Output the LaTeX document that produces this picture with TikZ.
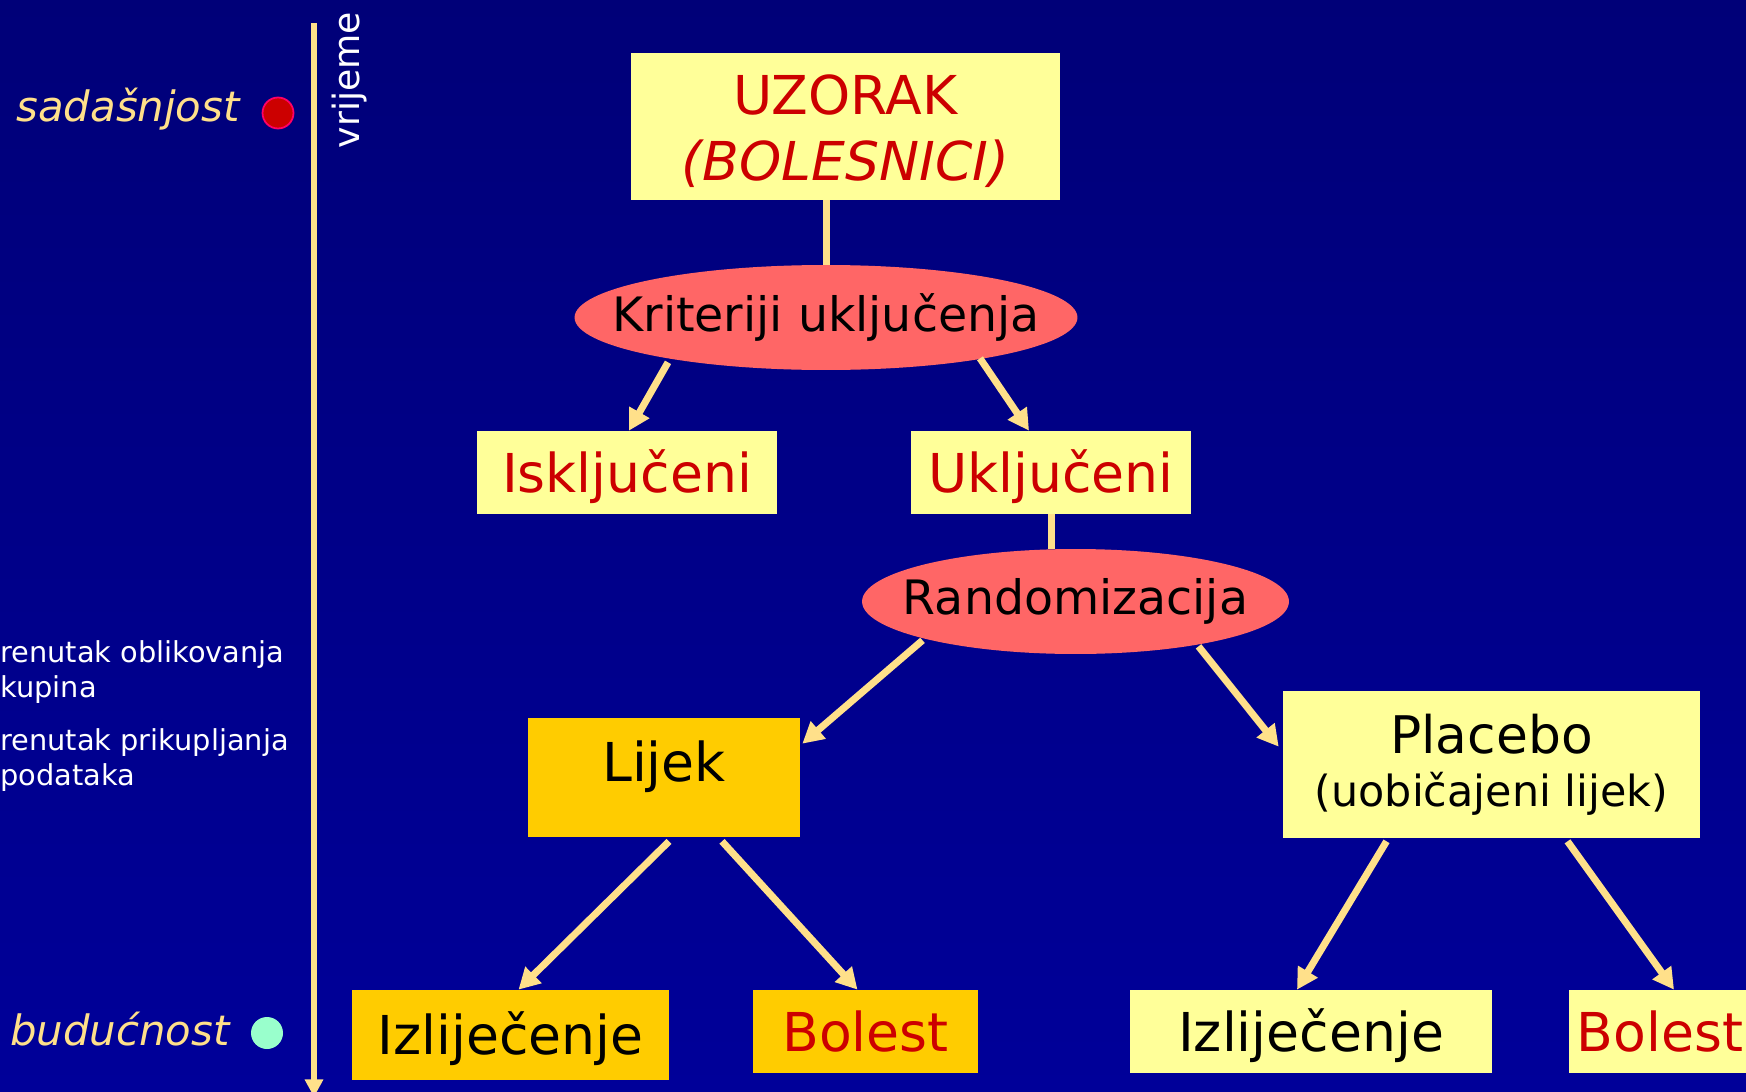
\documentclass[tikz,border=0pt]{standalone}
\usepackage{fontspec}
\setmainfont{DejaVu Sans}
\usepackage{tikz}
\usetikzlibrary{shapes.geometric}
\usetikzlibrary{arrows.meta}
\usetikzlibrary{calc}

\definecolor{bgtop}{RGB}{0,0,120}
\definecolor{bgbottom}{RGB}{0,0,153}
\definecolor{paleyellow}{RGB}{255,255,153}
\definecolor{goldbox}{RGB}{255,204,0}
\definecolor{salmonoval}{RGB}{255,102,102}
\definecolor{darkred}{RGB}{204,0,0}
\definecolor{wheatline}{RGB}{255,224,138}
\definecolor{mintdot}{RGB}{153,255,204}
\definecolor{rosering}{RGB}{255,0,102}

\tikzset{
  boxbase/.style={inner sep=0pt, align=center, font=\fontsize{30.5}{36}\selectfont},
  yellowbox/.style={boxbase, fill=paleyellow},
  orangebox/.style={boxbase, fill=goldbox},
  oneline/.style={text height=29.9pt, text depth=7.3pt},
  oval/.style={ellipse, fill=salmonoval, inner sep=0pt, font=\fontsize{27}{32}\selectfont},
  flow/.style={draw=wheatline, line width=4pt, -{Triangle[length=12pt,width=12.5pt]}},
  link/.style={draw=wheatline, line width=4pt},
  timeline/.style={draw=wheatline, line width=3pt, -{Triangle[length=10pt,width=10pt]}},
  daylabel/.style={anchor=base east, inner sep=0pt, text=wheatline, font=\fontsize{23.8}{28}\selectfont\itshape},
  note/.style={anchor=base west, align=left, inner sep=0pt, text=white, font=\fontsize{16.4}{19.8}\selectfont},
}

\begin{document}
\begin{tikzpicture}[x=0.02cm,y=-0.02cm]
        % Background
        \useasboundingbox (0,0) rectangle (1746,1091);
        \shade[top color=bgtop, bottom color=bgbottom] (0,0) rectangle (1746,1091);
        \clip (0,0) rectangle (1746,1091);

        % Time axis
        \coordinate (ttop) at (314,23);
        \coordinate (tbot) at (314,1097);
        \draw[timeline] (ttop) -- (tbot);
        \node[rotate=90, inner sep=0pt, text=white, font=\fontsize{20.6}{24}\selectfont] (time) at (350,80) {vrijeme};
        \node[circle, fill=darkred, draw=rosering, line width=1pt, minimum size=0.62cm, inner sep=0pt] (nowdot) at (278,113) {};
        \node[daylabel] (now) at (240,122) {sadašnjost};
        \node[circle, fill=mintdot, minimum size=0.64cm, inner sep=0pt] (futdot) at (267,1033) {};
        \node[daylabel] (future) at (230,1045) {budućnost};
        \node[note] (note1) at (0,697) {renutak oblikovanja\\kupina};
        \node[note] (note2) at (0,785) {renutak prikupljanja\\podataka};

        % Nodes
        \node[yellowbox, minimum width=8.58cm, minimum height=2.94cm, text=darkred] (uzorak) at (845.5,126.5) {\rule{0pt}{28pt}UZORAK\\[1.5pt]\textit{(BOLESNICI)}};
        \node[oval, minimum width=10.06cm, minimum height=2.1cm] (krit) at (826,317.5) {\makebox[0pt]{Kriteriji uključenja}};
        \node[yellowbox, oneline, minimum width=6cm, minimum height=1.66cm, text=darkred] (isklj) at (627,472.5) {Isključeni};
        \node[yellowbox, oneline, minimum width=5.6cm, minimum height=1.66cm, text=darkred] (uklj) at (1051,472.5) {Uključeni};
        \node[oval, minimum width=8.54cm, minimum height=2.1cm] (rand) at (1075.5,601.5) {\makebox[0pt]{Randomizacija}};
        \node[orangebox, oneline, minimum width=5.44cm, minimum height=2.38cm] (lijek) at (664,777.5) {\raisebox{9pt}[\height][\depth]{Lijek}};
        \node[yellowbox, minimum width=8.34cm, minimum height=2.94cm, font=\fontsize{24.4}{30}\selectfont] (placebo) at (1491.5,764.5) {{\fontsize{29.5}{30}\selectfont Placebo}\\(uobičajeni lijek)};
        \node[orangebox, oneline, minimum width=6.34cm, minimum height=1.8cm] (izl1) at (510.5,1035) {Izliječenje};
        \node[orangebox, oneline, minimum width=4.5cm, minimum height=1.66cm, text=darkred] (bolest1) at (865.5,1031.5) {Bolest};
        \node[yellowbox, oneline, minimum width=7.24cm, minimum height=1.66cm] (izl2) at (1311,1031.5) {Izliječenje};
        \node[yellowbox, oneline, minimum width=3.64cm, minimum height=1.66cm, text=darkred] (bolest2) at (1660,1031.5) {Bolest};

        % Edges
        \draw[link] (krit.north) -- (krit.north |- uzorak.south);
        \draw[flow] ($(krit.south)+(-158,-8)$) -- ($(isklj.north)+(2,0)$);
        \draw[flow] ($(krit.south)+(154,-12)$) -- ($(uklj.north)+(-22,0)$);
        \draw[link] (uklj.south) -- (uklj.south |- rand.north);
        \draw[flow] ($(rand.south)+(-153,-14)$) -- ($(lijek.north east)+(2,26)$);
        \draw[flow] ($(rand.south)+(123,-8)$) -- ($(placebo.north west)+(-4,56)$);
        \draw[flow] ($(lijek.south)+(5,4)$) -- ($(izl1.north)+(8,0)$);
        \draw[flow] ($(lijek.south)+(58,4)$) -- ($(bolest1.north)+(-8,0)$);
        \draw[flow] ($(placebo.south)+(-105,3)$) -- ($(izl2.north)+(-14,0)$);
        \draw[flow] ($(placebo.south)+(76,3)$) -- ($(bolest2.north)+(14,0)$);
\end{tikzpicture}
\end{document}
